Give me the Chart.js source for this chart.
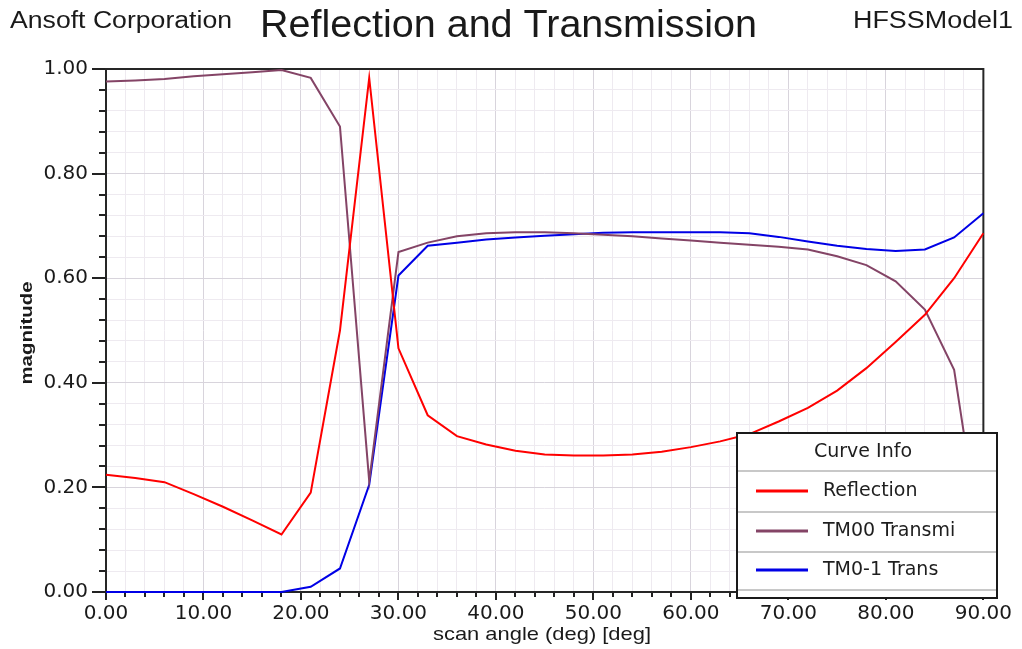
<!DOCTYPE html>
<html><head><meta charset="utf-8">
<script src="https://cdn.jsdelivr.net/npm/chart.js@4"></script>
<style>html,body{margin:0;padding:0;background:#fff;} canvas{display:block;}</style>
</head><body>
<canvas id="c" width="1022" height="649"></canvas>
<script>
// ---- data ----
const angles = [0,3,6,9,12,15,18,21,24,27,30,33,36,39,42,45,48,51,54,57,60,63,66,69,72,75,78,81,84,87,90];
const reflection = [0.224,0.218,0.210,0.187,0.163,0.137,0.110,0.190,0.500,0.983,0.466,0.338,0.298,0.282,0.270,0.263,0.261,0.261,0.263,0.268,0.277,0.288,0.302,0.326,0.352,0.385,0.428,0.478,0.530,0.600,0.686];
const tm00 = [0.976,0.978,0.981,0.986,0.990,0.994,0.998,0.983,0.890,0.212,0.650,0.668,0.680,0.686,0.688,0.688,0.686,0.683,0.680,0.676,0.672,0.668,0.664,0.660,0.655,0.642,0.625,0.594,0.540,0.425,0.060];
const tm01 = [0,0,0,0,0,0,0,0.010,0.045,0.205,0.605,0.662,0.668,0.674,0.678,0.681,0.684,0.687,0.688,0.688,0.688,0.688,0.686,0.679,0.670,0.662,0.656,0.652,0.655,0.678,0.724];
const seriesNames = ['Reflection','TM00 Transmi','TM0-1 Trans'];
const seriesColors = ['#ff0000','#844466','#0000e6'];
const xMajorTicks = [0,10,20,30,40,50,60,70,80,90];
const yMajorTicks = [0,0.2,0.4,0.6,0.8,1.0];
const chartTitle = 'Reflection and Transmission';
const leftCaption = 'Ansoft Corporation';
const rightCaption = 'HFSSModel1';
const xTitle = 'scan angle (deg) [deg]';
const yTitle = 'magnitude';
const legendTitle = 'Curve Info';

const isMajor = (v, list) => list.some(m => Math.abs(m - v) < 1e-6);
const toPts = arr => angles.map((a, i) => ({x: a, y: arr[i]}));

function fitText(ctx, text, font, x, y, width, align, rot) {
  ctx.save();
  ctx.font = font;
  const w = ctx.measureText(text).width;
  const s = width / w;
  ctx.translate(x, y);
  if (rot) ctx.rotate(rot);
  ctx.scale(s, 1);
  ctx.textAlign = align;
  ctx.fillText(text, 0, 0);
  ctx.restore();
}

const decor = {
  id: 'decor',
  beforeDraw(chart) {
    const ctx = chart.ctx;
    ctx.save(); ctx.fillStyle = '#fff'; ctx.fillRect(0, 0, chart.width, chart.height); ctx.restore();
  },
  beforeDatasetsDraw(chart) {
    const ctx = chart.ctx, a = chart.chartArea;
    const xs = chart.scales.x, ys = chart.scales.y;
    ctx.save();
    ctx.strokeStyle = '#222'; ctx.lineWidth = 2;
    ctx.beginPath();
    xs.ticks.forEach(t => {
      const p = Math.round(xs.getPixelForValue(t.value));
      const len = isMajor(t.value, xMajorTicks) ? 8 : 5;
      ctx.moveTo(p, a.bottom); ctx.lineTo(p, a.bottom + len);
    });
    ys.ticks.forEach(t => {
      const p = Math.round(ys.getPixelForValue(t.value));
      const len = isMajor(t.value, yMajorTicks) ? 14 : 7;
      ctx.moveTo(a.left, p); ctx.lineTo(a.left - len, p);
    });
    ctx.stroke();
    ctx.strokeStyle = '#262626'; ctx.lineWidth = 2;
    ctx.strokeRect(a.left, a.top, a.right - a.left, a.bottom - a.top);
    ctx.restore();
  },
  afterDraw(chart) {
    const ctx = chart.ctx;
    ctx.save();
    // legend box
    const L = {x0: 737, y0: 433, x1: 997, y1: 598};
    ctx.fillStyle = '#fff';
    ctx.fillRect(L.x0, L.y0, L.x1 - L.x0, L.y1 - L.y0);
    ctx.strokeStyle = '#c8c8c8'; ctx.lineWidth = 2;
    ctx.beginPath();
    [471, 512, 552, 590].forEach(y => { ctx.moveTo(L.x0, y); ctx.lineTo(L.x1, y); });
    ctx.stroke();
    ctx.fillStyle = '#1e1e1e';
    ctx.font = '19px "DejaVu Sans"';
    ctx.textBaseline = 'middle';
    ctx.textAlign = 'center';
    ctx.fillText(legendTitle, 863, 452);
    const rows = [491, 531, 570];
    seriesNames.forEach((n, i) => {
      ctx.strokeStyle = seriesColors[i]; ctx.lineWidth = 3;
      ctx.beginPath(); ctx.moveTo(756, rows[i]); ctx.lineTo(808, rows[i]); ctx.stroke();
      ctx.textAlign = 'left';
      ctx.fillText(n, 823, rows[i]);
    });
    ctx.strokeStyle = '#1a1a1a'; ctx.lineWidth = 2;
    ctx.strokeRect(L.x0, L.y0, L.x1 - L.x0, L.y1 - L.y0);

    // captions and titles
    ctx.fillStyle = '#1a1a1a';
    ctx.textBaseline = 'alphabetic';
    fitText(ctx, leftCaption, '23px "Liberation Sans"', 10, 28, 222, 'left');
    fitText(ctx, chartTitle, '38px "Liberation Sans"', 260, 37, 497, 'left');
    fitText(ctx, rightCaption, '23px "Liberation Sans"', 853, 28, 160, 'left');
    fitText(ctx, xTitle, '19px "Liberation Sans"', 542, 640, 218, 'center');
    ctx.textBaseline = 'middle';
    fitText(ctx, yTitle, 'bold 17px "Liberation Sans"', 27, 333, 103, 'center', -Math.PI / 2);
    ctx.restore();
  }
};

new Chart(document.getElementById('c'), {
  type: 'line',
  data: {
    datasets: [
      {label: seriesNames[0], data: toPts(reflection), borderColor: seriesColors[0], clip: false},
      {label: seriesNames[1], data: toPts(tm00), borderColor: seriesColors[1], clip: false},
      {label: seriesNames[2], data: toPts(tm01), borderColor: seriesColors[2], clip: false}
    ]
  },
  options: {
    responsive: false,
    devicePixelRatio: 1,
    animation: false,
    events: [],
    elements: {line: {borderWidth: 2, tension: 0, fill: false}, point: {radius: 0}},
    layout: {padding: {left: 0, top: 69, right: 36, bottom: 0}},
    plugins: {legend: {display: false}, tooltip: {enabled: false}, title: {display: false}},
    scales: {
      x: {
        type: 'linear', min: 0, max: 90,
        afterFit: s => { s.height = 57; },
        border: {display: false},
        grid: {drawTicks: false, lineWidth: 1,
          color: c => isMajor(c.tick.value, xMajorTicks) ? '#d8d4dc' : '#eeeaf0'},
        ticks: {stepSize: 2, autoSkip: false, maxRotation: 0, padding: 10, color: '#1a1a1a',
          font: {family: '"DejaVu Sans"', size: 20},
          callback: v => isMajor(v, xMajorTicks) ? Number(v).toFixed(2) : ''}
      },
      y: {
        type: 'linear', min: 0, max: 1,
        afterFit: s => { s.width = 106; },
        border: {display: false},
        grid: {drawTicks: false, lineWidth: 1,
          color: c => isMajor(c.tick.value, yMajorTicks) ? '#d8d4dc' : '#eeeaf0'},
        ticks: {stepSize: 0.04, autoSkip: false, padding: 18, color: '#1a1a1a',
          font: {family: '"DejaVu Sans"', size: 20},
          callback: v => isMajor(v, yMajorTicks) ? Number(v).toFixed(2) : ''}
      }
    }
  },
  plugins: [decor]
});
</script>
</body></html>
